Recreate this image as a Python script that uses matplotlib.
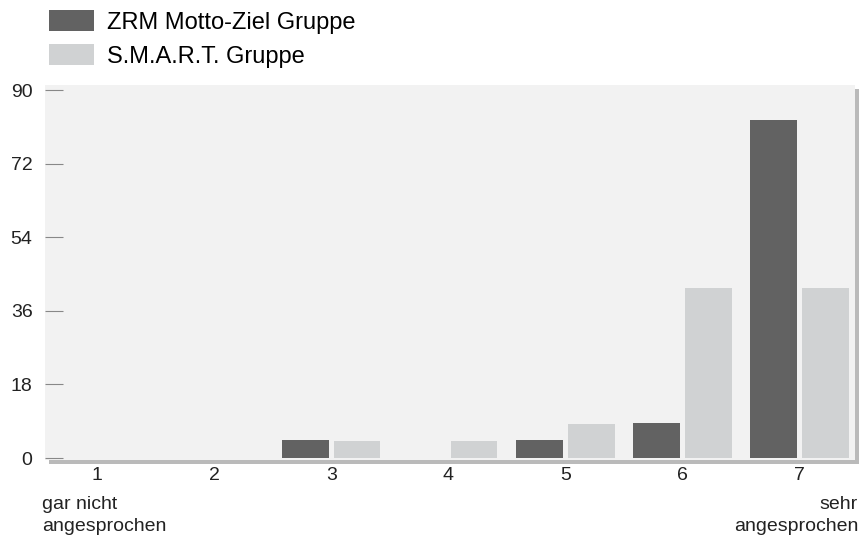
import matplotlib
matplotlib.use("Agg")
import matplotlib.pyplot as plt
import matplotlib.patheffects as pe
from matplotlib.patches import Patch
import numpy as np

# Antwortstufen 1..7, Anteil in Prozent
stufen = [1, 2, 3, 4, 5, 6, 7]
zrm = [0, 0, 4.35, 0, 4.35, 8.7, 82.6]
smart = [0, 0, 4.17, 4.17, 8.33, 41.67, 41.67]
gruppen = ["ZRM Motto-Ziel Gruppe", "S.M.A.R.T. Gruppe"]
yticks = [0, 18, 36, 54, 72, 90]

dunkel = "#626262"
hell = "#d0d2d3"

plt.rcParams['font.family'] = ['Liberation Sans', 'DejaVu Sans']

fig = plt.figure(figsize=(8.65, 5.42), dpi=100)
ax = fig.add_axes([0.052, 0.151, 0.936, 0.692])
ax.set_facecolor("#f2f2f2")
ax.patch.set_path_effects([
    pe.SimplePatchShadow(offset=(3, -3), shadow_rgbFace="#666666", alpha=0.45),
    pe.Normal(),
])

x = np.array(stufen)
w = 0.40
ax.bar(x - 0.22, zrm, width=w, color=dunkel, edgecolor="none")
ax.bar(x + 0.22, smart, width=w, color=hell, edgecolor="none")

ax.set_xlim(0.556, 7.47)
ax.set_ylim(-0.5, 91.2)
ax.set_xticks(stufen)
ax.set_yticks(yticks)
ax.tick_params(axis='x', length=0, labelsize=14, pad=5, colors="#222222")
ax.tick_params(axis='y', direction='in', length=13, width=0.8, color="#888888",
               labelsize=14, pad=9, labelcolor="#222222")
for s in ax.spines.values():
    s.set_visible(False)

fig.text(0.049, 0.084, "gar nicht\nangesprochen", ha='left', va='top',
         fontsize=14, color="#222222", linespacing=1.35)
fig.text(0.992, 0.084, "sehr\nangesprochen", ha='right', va='top',
         fontsize=14, color="#222222", linespacing=1.35, multialignment='right')

handles = [Patch(facecolor=dunkel, edgecolor='none'), Patch(facecolor=hell, edgecolor='none')]
fig.legend(handles, gruppen, loc='upper left', bbox_to_anchor=(0.046, 0.999),
           frameon=False, fontsize=17, handlelength=1.9, handleheight=1.0,
           handletextpad=0.55, labelspacing=0.45, borderaxespad=0)

fig.savefig("out.png", dpi=100)
